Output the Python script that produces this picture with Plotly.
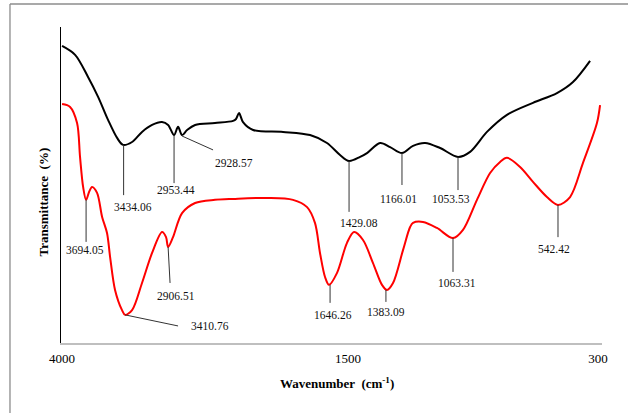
import numpy as np
import plotly.graph_objects as go

# ---- data (wavenumber in cm-1, transmittance in arbitrary %) ----
wn_a = [4000, 3886, 3773, 3685, 3598, 3519, 3467, 3388, 3301, 3213, 3126, 3073, 3021,
        2986, 2951, 2907, 2837, 2663, 2505, 2479, 2453, 2418, 2330, 2068, 1832, 1684,
        1570, 1495, 1442, 1409, 1346, 1298, 1241, 1188, 1130, 1058, 972, 914, 833, 737,
        612, 497, 420, 338]
t_a = [94.0, 91.2, 84.2, 77.9, 70.6, 64.9, 62.7, 63.6, 66.8, 69.0, 69.9, 69.0, 65.8,
       68.4, 65.8, 67.4, 69.0, 69.6, 70.3, 70.9, 72.8, 69.9, 67.4, 66.8, 65.8, 63.3,
       59.5, 57.6, 58.9, 60.1, 63.3, 62.0, 60.1, 62.4, 63.3, 61.7, 58.9, 60.5, 66.8, 72.2,
       76.0, 79.1, 82.6, 89.3]

wn_b = [4000, 3930, 3869, 3843, 3816, 3790, 3764, 3738, 3694, 3650, 3607, 3580, 3537,
        3476, 3449, 3388, 3301, 3213, 3126, 3091, 3073, 3030, 2951, 2837, 2663, 2505,
        2208, 1981, 1858, 1789, 1745, 1701, 1666, 1596, 1509, 1471, 1428, 1380, 1337,
        1313, 1284, 1236, 1202, 1188, 1140, 1073, 996, 948, 881, 818, 770, 737, 674, 612,
        545, 492, 434, 372, 305, 290]
t_b = [75.6, 74.7, 69.6, 58.9, 49.4, 45.3, 47.8, 49.4, 47.5, 39.9, 34.8, 27.2, 16.8,
       10.4, 8.9, 10.4, 19.0, 28.5, 35.1, 33.5, 30.4, 33.5, 41.1, 44.3, 45.3, 45.6,
       45.9, 45.3, 43.0, 38.0, 28.5, 20.9, 18.4, 22.2, 31.7, 35.1, 32.6, 25.3, 18.4,
       16.8, 19.0, 29.4, 36.7, 38.0, 38.3, 36.4, 33.2, 35.8, 45.3, 53.8, 57.3, 58.6, 55.7, 51.0,
       46.2, 43.7, 46.2, 57.0, 69.6, 75.3]

tick_wn = [4000, 1500, 300]
tick_text = ["4000", "1500", "300"]

# peak labels: text, leader line (x0, y0, x1, y1) and label anchor (x, y), in wn / %
peak_text = ["3434.06", "2953.44", "2928.57", "1429.08", "1166.01", "1053.53",
             "3694.05", "3410.76", "2906.51", "1646.26", "1383.09", "1063.31", "542.42"]
peak_line = [(3462, 62.7, 3462, 46.8), (3021, 65.8, 3021, 50.6), (2951, 65.5, 2680, 61.1),
             (1495, 57.6, 1495, 41.5), (1241, 60.1, 1241, 50.0), (972, 58.9, 972, 48.4),
             (3790, 45.3, 3790, 32.0), (3449, 8.9, 2986, 5.4), (3073, 30.4, 3056, 19.0),
             (1657, 18.4, 1657, 12.7), (1318, 16.8, 1318, 13.0), (996, 33.2, 996, 22.5),
             (492, 43.7, 492, 33.5)]
peak_pos = [(3379, 43.0), (3004, 48.4), (2497, 57.0), (1447, 38.0), (1260, 45.6), (1006, 45.6),
            (3799, 29.4), (2706, 5.4), (3004, 14.9), (1631, 8.9), (1318, 9.8), (977, 19.0),
            (511, 29.8)]

series_names = ["a", "b"]


# ---- axis scale: piecewise-linear wavenumber scale (as in the original figure) ----
BREAK = (348 - 62) / (598 - 62)  # display fraction of the 1500 tick


def scale(wn):
    wn = np.asarray(wn, dtype=float)
    left = (4000 - wn) / 2500 * BREAK
    right = BREAK + (1500 - wn) / 1200 * (1 - BREAK)
    return np.where(wn >= 1500, left, right)


SERIF = "Liberation Serif, Times New Roman, serif"

fig = go.Figure()
fig.add_trace(go.Scatter(x=scale(wn_a), y=t_a, mode="lines", name=series_names[0],
                         line=dict(color="#000000", width=2, shape="spline", smoothing=0.9),
                         hoverinfo="skip"))
fig.add_trace(go.Scatter(x=scale(wn_b), y=t_b, mode="lines", name=series_names[1],
                         line=dict(color="#ff0000", width=2, shape="spline", smoothing=0.9),
                         hoverinfo="skip"))

shapes = []
annotations = []
for txt, (x0, y0, x1, y1), (lx, ly) in zip(peak_text, peak_line, peak_pos):
    shapes.append(dict(type="line", xref="x", yref="y",
                       x0=float(scale(x0)), y0=y0, x1=float(scale(x1)), y1=y1,
                       line=dict(color="#333333", width=1)))
    annotations.append(dict(x=float(scale(lx)), y=ly, xref="x", yref="y", text=txt,
                            showarrow=False, font=dict(family=SERIF, size=11.5, color="#111111")))

# series labels a / b
for name, ypos in zip(series_names, [91.2, 54.1]):
    annotations.append(dict(x=1.0354, y=ypos, xref="x", yref="y", text=name, showarrow=False,
                            font=dict(family=SERIF, size=21, color="#000000")))

# axis titles
annotations.append(dict(x=0.511, y=-0.125, xref="paper", yref="paper", yanchor="middle",
                        xanchor="center",
                        text="<b>Wavenumber  (cm<sup>-1</sup>)</b>", showarrow=False,
                        font=dict(family=SERIF, size=13, color="#000000")))
annotations.append(dict(x=-0.033, y=0.445, xref="paper", yref="paper", textangle=-90,
                        xanchor="center", yanchor="middle",
                        text="<b>Transmittance  (%)</b>", showarrow=False,
                        font=dict(family=SERIF, size=13, color="#000000")))

# outer frame (top and left edges of the pasted figure border)
frame = dict(color="#8c8c8c", width=1.3)
shapes.append(dict(type="line", xref="paper", yref="paper", x0=-0.0943, y0=1.0728, x1=1.2, y1=1.0728,
                   line=frame))
shapes.append(dict(type="line", xref="paper", yref="paper", x0=-0.0943, y0=1.0728, x1=-0.0943, y1=-0.3,
                   line=frame))

fig.update_layout(
    width=628, height=413,
    margin=dict(l=61, r=26, t=27, b=70),
    paper_bgcolor="white", plot_bgcolor="white",
    showlegend=False,
    shapes=shapes, annotations=annotations,
    xaxis=dict(range=[-0.002, 1.0075], showgrid=False, zeroline=False,
               showline=True, linecolor="#bfbfbf", linewidth=1.5,
               tickmode="array", tickvals=[float(v) for v in scale(tick_wn)], ticktext=tick_text,
               ticks="", ticklabelstandoff=3,
               tickfont=dict(family=SERIF, size=13, color="#000000")),
    yaxis=dict(range=[0, 100], showgrid=False, zeroline=False, showticklabels=False,
               showline=True, linecolor="#000000", linewidth=1.2, ticks=""),
)

# remove the default 8px page margin so the figure fills the window exactly
fig.write_html("out.html", config={"displayModeBar": False},
               post_script="document.body.style.margin='0';document.body.style.overflow='hidden';")
